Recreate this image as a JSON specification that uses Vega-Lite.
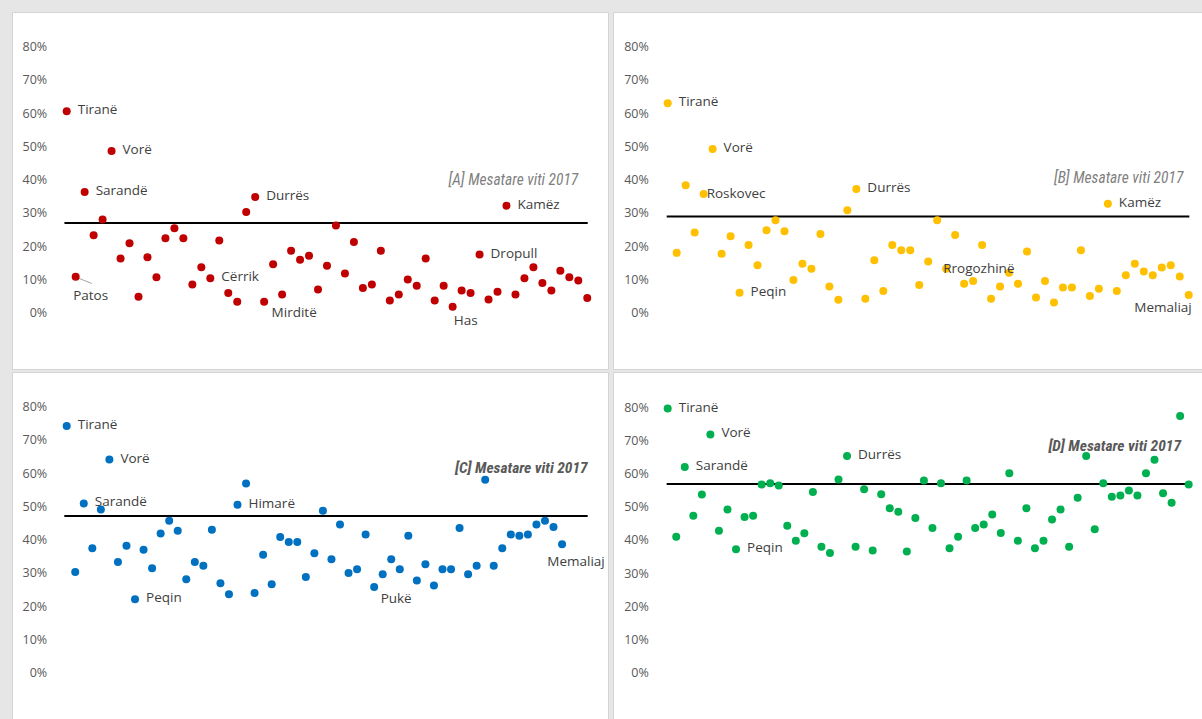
{
"$schema":"https://vega.github.io/schema/vega-lite/v6.json",
"background":"#e6e6e6",
"padding":{"left":11,"top":11,"right":0,"bottom":0},
"config":{"view":{"fill":"white","stroke":"#d4d4d4","strokeWidth":1},"concat":{"spacing":6},
"axisY":{"grid":false,"domain":false,"ticks":false,"tickSize":0,"labelPadding":0,"labelFont":"Open Sans","labelFontSize":12.5,"labelColor":"#595959","format":".0%"}},
"datasets":{"pts":[
{"p":"A","i":1,"v":0.606,"n":"Tiranë"},{"p":"A","i":2,"v":0.108,"n":"Patos"},{"p":"A","i":3,"v":0.363,"n":"Sarandë"},{"p":"A","i":4,"v":0.233},{"p":"A","i":5,"v":0.280},{"p":"A","i":6,"v":0.486,"n":"Vorë"},{"p":"A","i":7,"v":0.163},{"p":"A","i":8,"v":0.209},{"p":"A","i":9,"v":0.048},{"p":"A","i":10,"v":0.167},
{"p":"A","i":11,"v":0.107},{"p":"A","i":12,"v":0.224},{"p":"A","i":13,"v":0.254},{"p":"A","i":14,"v":0.224},{"p":"A","i":15,"v":0.085},{"p":"A","i":16,"v":0.137},{"p":"A","i":17,"v":0.104,"n":"Cërrik"},{"p":"A","i":18,"v":0.217},{"p":"A","i":19,"v":0.059},{"p":"A","i":20,"v":0.033},
{"p":"A","i":21,"v":0.303},{"p":"A","i":22,"v":0.348,"n":"Durrës"},{"p":"A","i":23,"v":0.033,"n":"Mirditë"},{"p":"A","i":24,"v":0.146},{"p":"A","i":25,"v":0.055},{"p":"A","i":26,"v":0.186},{"p":"A","i":27,"v":0.159},{"p":"A","i":28,"v":0.171},{"p":"A","i":29,"v":0.070},{"p":"A","i":30,"v":0.141},
{"p":"A","i":31,"v":0.262},{"p":"A","i":32,"v":0.118},{"p":"A","i":33,"v":0.213},{"p":"A","i":34,"v":0.074},{"p":"A","i":35,"v":0.085},{"p":"A","i":36,"v":0.186},{"p":"A","i":37,"v":0.037},{"p":"A","i":38,"v":0.055},{"p":"A","i":39,"v":0.100},{"p":"A","i":40,"v":0.081},
{"p":"A","i":41,"v":0.163},{"p":"A","i":42,"v":0.037},{"p":"A","i":43,"v":0.081},{"p":"A","i":44,"v":0.018,"n":"Has"},{"p":"A","i":45,"v":0.067},{"p":"A","i":46,"v":0.059},{"p":"A","i":47,"v":0.175,"n":"Dropull"},{"p":"A","i":48,"v":0.040},{"p":"A","i":49,"v":0.063},{"p":"A","i":50,"v":0.322,"n":"Kamëz"},
{"p":"A","i":51,"v":0.055},{"p":"A","i":52,"v":0.104},{"p":"A","i":53,"v":0.137},{"p":"A","i":54,"v":0.089},{"p":"A","i":55,"v":0.067},{"p":"A","i":56,"v":0.126},{"p":"A","i":57,"v":0.107},{"p":"A","i":58,"v":0.097},{"p":"A","i":59,"v":0.044},
{"p":"B","i":1,"v":0.630,"n":"Tiranë"},{"p":"B","i":2,"v":0.180},{"p":"B","i":3,"v":0.383},{"p":"B","i":4,"v":0.241},{"p":"B","i":5,"v":0.357,"n":"Roskovec"},{"p":"B","i":6,"v":0.492,"n":"Vorë"},{"p":"B","i":7,"v":0.177},{"p":"B","i":8,"v":0.230},{"p":"B","i":9,"v":0.060,"n":"Peqin"},{"p":"B","i":10,"v":0.204},
{"p":"B","i":11,"v":0.143},{"p":"B","i":12,"v":0.248},{"p":"B","i":13,"v":0.278},{"p":"B","i":14,"v":0.245},{"p":"B","i":15,"v":0.098},{"p":"B","i":16,"v":0.147},{"p":"B","i":17,"v":0.132},{"p":"B","i":18,"v":0.237},{"p":"B","i":19,"v":0.079},{"p":"B","i":20,"v":0.039},
{"p":"B","i":21,"v":0.308},{"p":"B","i":22,"v":0.372,"n":"Durrës"},{"p":"B","i":23,"v":0.042},{"p":"B","i":24,"v":0.158},{"p":"B","i":25,"v":0.065},{"p":"B","i":26,"v":0.204},{"p":"B","i":27,"v":0.188},{"p":"B","i":28,"v":0.188},{"p":"B","i":29,"v":0.083},{"p":"B","i":30,"v":0.154},
{"p":"B","i":31,"v":0.278},{"p":"B","i":32,"v":0.132,"n":"Rrogozhinë"},{"p":"B","i":33,"v":0.234},{"p":"B","i":34,"v":0.087},{"p":"B","i":35,"v":0.095},{"p":"B","i":36,"v":0.204},{"p":"B","i":37,"v":0.042},{"p":"B","i":38,"v":0.079},{"p":"B","i":39,"v":0.120},{"p":"B","i":40,"v":0.087},
{"p":"B","i":41,"v":0.184},{"p":"B","i":42,"v":0.046},{"p":"B","i":43,"v":0.095},{"p":"B","i":44,"v":0.031},{"p":"B","i":45,"v":0.076},{"p":"B","i":46,"v":0.076},{"p":"B","i":47,"v":0.188},{"p":"B","i":48,"v":0.050},{"p":"B","i":49,"v":0.072},{"p":"B","i":50,"v":0.328,"n":"Kamëz"},
{"p":"B","i":51,"v":0.065},{"p":"B","i":52,"v":0.113},{"p":"B","i":53,"v":0.147},{"p":"B","i":54,"v":0.124},{"p":"B","i":55,"v":0.113},{"p":"B","i":56,"v":0.136},{"p":"B","i":57,"v":0.143},{"p":"B","i":58,"v":0.109},{"p":"B","i":59,"v":0.053,"n":"Memaliaj"},
{"p":"C","i":1,"v":0.742,"n":"Tiranë"},{"p":"C","i":2,"v":0.303},{"p":"C","i":3,"v":0.509,"n":"Sarandë"},{"p":"C","i":4,"v":0.374},{"p":"C","i":5,"v":0.491},{"p":"C","i":6,"v":0.641,"n":"Vorë"},{"p":"C","i":7,"v":0.333},{"p":"C","i":8,"v":0.382},{"p":"C","i":9,"v":0.221,"n":"Peqin"},{"p":"C","i":10,"v":0.370},
{"p":"C","i":11,"v":0.314},{"p":"C","i":12,"v":0.419},{"p":"C","i":13,"v":0.457},{"p":"C","i":14,"v":0.427},{"p":"C","i":15,"v":0.281},{"p":"C","i":16,"v":0.333},{"p":"C","i":17,"v":0.322},{"p":"C","i":18,"v":0.430},{"p":"C","i":19,"v":0.269},{"p":"C","i":20,"v":0.236},
{"p":"C","i":21,"v":0.505,"n":"Himarë"},{"p":"C","i":22,"v":0.569},{"p":"C","i":23,"v":0.240},{"p":"C","i":24,"v":0.355},{"p":"C","i":25,"v":0.266},{"p":"C","i":26,"v":0.408},{"p":"C","i":27,"v":0.393},{"p":"C","i":28,"v":0.393},{"p":"C","i":29,"v":0.288},{"p":"C","i":30,"v":0.359},
{"p":"C","i":31,"v":0.487},{"p":"C","i":32,"v":0.341},{"p":"C","i":33,"v":0.446},{"p":"C","i":34,"v":0.300},{"p":"C","i":35,"v":0.311},{"p":"C","i":36,"v":0.416},{"p":"C","i":37,"v":0.258,"n":"Pukë"},{"p":"C","i":38,"v":0.296},{"p":"C","i":39,"v":0.341},{"p":"C","i":40,"v":0.311},
{"p":"C","i":41,"v":0.412},{"p":"C","i":42,"v":0.277},{"p":"C","i":43,"v":0.326},{"p":"C","i":44,"v":0.262},{"p":"C","i":45,"v":0.311},{"p":"C","i":46,"v":0.311},{"p":"C","i":47,"v":0.435},{"p":"C","i":48,"v":0.296},{"p":"C","i":49,"v":0.322},{"p":"C","i":50,"v":0.580},
{"p":"C","i":51,"v":0.322},{"p":"C","i":52,"v":0.374},{"p":"C","i":53,"v":0.416},{"p":"C","i":54,"v":0.412},{"p":"C","i":55,"v":0.416},{"p":"C","i":56,"v":0.446},{"p":"C","i":57,"v":0.457},{"p":"C","i":58,"v":0.438},{"p":"C","i":59,"v":0.386,"n":"Memaliaj"},
{"p":"D","i":1,"v":0.796,"n":"Tiranë"},{"p":"D","i":2,"v":0.410},{"p":"D","i":3,"v":0.620,"n":"Sarandë"},{"p":"D","i":4,"v":0.473},{"p":"D","i":5,"v":0.537},{"p":"D","i":6,"v":0.718,"n":"Vorë"},{"p":"D","i":7,"v":0.428},{"p":"D","i":8,"v":0.492},{"p":"D","i":9,"v":0.372,"n":"Peqin"},{"p":"D","i":10,"v":0.469},
{"p":"D","i":11,"v":0.473},{"p":"D","i":12,"v":0.567},{"p":"D","i":13,"v":0.571},{"p":"D","i":14,"v":0.564},{"p":"D","i":15,"v":0.443},{"p":"D","i":16,"v":0.398},{"p":"D","i":17,"v":0.420},{"p":"D","i":18,"v":0.545},{"p":"D","i":19,"v":0.380},{"p":"D","i":20,"v":0.361},
{"p":"D","i":21,"v":0.582},{"p":"D","i":22,"v":0.653,"n":"Durrës"},{"p":"D","i":23,"v":0.380},{"p":"D","i":24,"v":0.553},{"p":"D","i":25,"v":0.368},{"p":"D","i":26,"v":0.538},{"p":"D","i":27,"v":0.496},{"p":"D","i":28,"v":0.485},{"p":"D","i":29,"v":0.365},{"p":"D","i":30,"v":0.466},
{"p":"D","i":31,"v":0.579},{"p":"D","i":32,"v":0.436},{"p":"D","i":33,"v":0.571},{"p":"D","i":34,"v":0.375},{"p":"D","i":35,"v":0.410},{"p":"D","i":36,"v":0.579},{"p":"D","i":37,"v":0.436},{"p":"D","i":38,"v":0.447},{"p":"D","i":39,"v":0.477},{"p":"D","i":40,"v":0.421},
{"p":"D","i":41,"v":0.601},{"p":"D","i":42,"v":0.398},{"p":"D","i":43,"v":0.496},{"p":"D","i":44,"v":0.375},{"p":"D","i":45,"v":0.398},{"p":"D","i":46,"v":0.462},{"p":"D","i":47,"v":0.492},{"p":"D","i":48,"v":0.380},{"p":"D","i":49,"v":0.527},{"p":"D","i":50,"v":0.653},
{"p":"D","i":51,"v":0.432},{"p":"D","i":52,"v":0.571},{"p":"D","i":53,"v":0.530},{"p":"D","i":54,"v":0.534},{"p":"D","i":55,"v":0.549},{"p":"D","i":56,"v":0.534},{"p":"D","i":57,"v":0.601},{"p":"D","i":58,"v":0.642},{"p":"D","i":59,"v":0.541},{"p":"D","i":60,"v":0.512},
{"p":"D","i":61,"v":0.774},{"p":"D","i":62,"v":0.567}
]},
"vconcat":[
{"hconcat":[
{"width":596,"height":357,"layer":[
 {"data":{"values":[{"v":0.27}]},"mark":{"type":"rule","color":"black","strokeWidth":2},"encoding":{"x":{"datum":0.75,"type":"quantitative","axis":null},"x2":{"datum":59.05},"y":{"field":"v","type":"quantitative","axis":{"offset":-34.7,"title":null,"values":[0,0.1,0.2,0.3,0.4,0.5,0.6,0.7,0.8]}}}},
 {"data":{"values":[{"a":1}]},"mark":{"type":"rule","color":"#a6a6a6","strokeWidth":1},"encoding":{"x":{"datum":2.3,"type":"quantitative","axis":null},"x2":{"datum":3.8},"y":{"datum":0.104,"type":"quantitative","axis":{"offset":-34.7,"title":null,"values":[0,0.1,0.2,0.3,0.4,0.5,0.6,0.7,0.8]}},"y2":{"datum":0.088}}},
 {"data":{"name":"pts"},"transform":[{"filter":"datum.p==='A'"}],"mark":{"type":"circle","size":64,"opacity":1,"color":"#C00000"},"encoding":{"x":{"field":"i","type":"quantitative","scale":{"domain":[-5.094,61.31],"nice":false,"zero":false},"axis":null},"y":{"field":"v","type":"quantitative","scale":{"domain":[-0.1693,0.9044],"nice":false,"zero":false},"axis":{"offset":-34.7,"title":null,"values":[0,0.1,0.2,0.3,0.4,0.5,0.6,0.7,0.8]}}}},
 {"data":{"name":"pts"},"transform":[{"filter":{"field":"n","oneOf":["Tiranë","Vorë","Sarandë","Durrës","Kamëz","Dropull","Cërrik"]}},{"filter":"datum.p==='A'"}],"mark":{"type":"text","align":"left","baseline":"middle","dx":11,"dy":-1,"font":"Open Sans","fontSize":13.5,"color":"#404040"},"encoding":{"x":{"field":"i","type":"quantitative","axis":null},"y":{"field":"v","type":"quantitative","axis":{"offset":-34.7,"title":null,"values":[0,0.1,0.2,0.3,0.4,0.5,0.6,0.7,0.8]}},"text":{"field":"n"}}},
 {"data":{"name":"pts"},"transform":[{"filter":"datum.p==='A' && datum.n==='Patos'"}],"mark":{"type":"text","align":"center","baseline":"middle","dx":15,"dy":19,"font":"Open Sans","fontSize":13.5,"color":"#404040"},"encoding":{"x":{"field":"i","type":"quantitative","axis":null},"y":{"field":"v","type":"quantitative","axis":{"offset":-34.7,"title":null,"values":[0,0.1,0.2,0.3,0.4,0.5,0.6,0.7,0.8]}},"text":{"field":"n"}}},
 {"data":{"name":"pts"},"transform":[{"filter":"datum.p==='A' && datum.n==='Mirditë'"}],"mark":{"type":"text","align":"center","baseline":"middle","dx":30,"dy":11,"font":"Open Sans","fontSize":13.5,"color":"#404040"},"encoding":{"x":{"field":"i","type":"quantitative","axis":null},"y":{"field":"v","type":"quantitative","axis":{"offset":-34.7,"title":null,"values":[0,0.1,0.2,0.3,0.4,0.5,0.6,0.7,0.8]}},"text":{"field":"n"}}},
 {"data":{"name":"pts"},"transform":[{"filter":"datum.p==='A' && datum.n==='Has'"}],"mark":{"type":"text","align":"center","baseline":"middle","dx":13,"dy":14,"font":"Open Sans","fontSize":13.5,"color":"#404040"},"encoding":{"x":{"field":"i","type":"quantitative","axis":null},"y":{"field":"v","type":"quantitative","axis":{"offset":-34.7,"title":null,"values":[0,0.1,0.2,0.3,0.4,0.5,0.6,0.7,0.8]}},"text":{"field":"n"}}},
 {"data":{"values":[{"t":"[A] Mesatare viti 2017"}]},"mark":{"type":"text","align":"right","baseline":"middle","font":"Liberation Sans Narrow, Roboto Condensed, Roboto","fontStyle":"italic","fontSize":15.5,"color":"#7f7f7f"},"encoding":{"x":{"datum":58.0,"type":"quantitative","axis":null},"y":{"datum":0.40,"type":"quantitative","axis":{"offset":-34.7,"title":null,"values":[0,0.1,0.2,0.3,0.4,0.5,0.6,0.7,0.8]}},"text":{"field":"t"}}}
]},
{"width":589,"height":357,"layer":[
 {"data":{"values":[{"v":0.289}]},"mark":{"type":"rule","color":"black","strokeWidth":2},"encoding":{"x":{"datum":0.89,"type":"quantitative","axis":null},"x2":{"datum":59.07},"y":{"field":"v","type":"quantitative","axis":{"offset":-35.3,"title":null,"values":[0,0.1,0.2,0.3,0.4,0.5,0.6,0.7,0.8]}}}},
 {"data":{"name":"pts"},"transform":[{"filter":"datum.p==='B'"}],"mark":{"type":"circle","size":64,"opacity":1,"color":"#FFC000"},"encoding":{"x":{"field":"i","type":"quantitative","scale":{"domain":[-5.09,60.48],"nice":false,"zero":false},"axis":null},"y":{"field":"v","type":"quantitative","scale":{"domain":[-0.1693,0.9044],"nice":false,"zero":false},"axis":{"offset":-35.3,"title":null,"values":[0,0.1,0.2,0.3,0.4,0.5,0.6,0.7,0.8]}}}},
 {"data":{"name":"pts"},"transform":[{"filter":{"field":"n","oneOf":["Tiranë","Vorë","Durrës","Peqin","Kamëz"]}},{"filter":"datum.p==='B'"}],"mark":{"type":"text","align":"left","baseline":"middle","dx":11,"dy":-1,"font":"Open Sans","fontSize":13.5,"color":"#404040"},"encoding":{"x":{"field":"i","type":"quantitative","axis":null},"y":{"field":"v","type":"quantitative","axis":{"offset":-35.3,"title":null,"values":[0,0.1,0.2,0.3,0.4,0.5,0.6,0.7,0.8]}},"text":{"field":"n"}}},
 {"data":{"name":"pts"},"transform":[{"filter":"datum.p==='B' && datum.n==='Roskovec'"}],"mark":{"type":"text","align":"left","baseline":"middle","dx":3,"dy":0,"font":"Open Sans","fontSize":13.5,"color":"#404040"},"encoding":{"x":{"field":"i","type":"quantitative","axis":null},"y":{"field":"v","type":"quantitative","axis":{"offset":-35.3,"title":null,"values":[0,0.1,0.2,0.3,0.4,0.5,0.6,0.7,0.8]}},"text":{"field":"n"}}},
 {"data":{"name":"pts"},"transform":[{"filter":"datum.p==='B' && datum.n==='Rrogozhinë'"}],"mark":{"type":"text","align":"left","baseline":"middle","dx":-3,"dy":0,"font":"Open Sans","fontSize":13.5,"color":"#404040"},"encoding":{"x":{"field":"i","type":"quantitative","axis":null},"y":{"field":"v","type":"quantitative","axis":{"offset":-35.3,"title":null,"values":[0,0.1,0.2,0.3,0.4,0.5,0.6,0.7,0.8]}},"text":{"field":"n"}}},
 {"data":{"name":"pts"},"transform":[{"filter":"datum.p==='B' && datum.n==='Memaliaj'"}],"mark":{"type":"text","align":"right","baseline":"middle","dx":3,"dy":13,"font":"Open Sans","fontSize":13.5,"color":"#404040"},"encoding":{"x":{"field":"i","type":"quantitative","axis":null},"y":{"field":"v","type":"quantitative","axis":{"offset":-35.3,"title":null,"values":[0,0.1,0.2,0.3,0.4,0.5,0.6,0.7,0.8]}},"text":{"field":"n"}}},
 {"data":{"values":[{"t":"[B] Mesatare viti 2017"}]},"mark":{"type":"text","align":"right","baseline":"middle","font":"Liberation Sans Narrow, Roboto Condensed, Roboto","fontStyle":"italic","fontSize":15.5,"color":"#7f7f7f"},"encoding":{"x":{"datum":58.4,"type":"quantitative","axis":null},"y":{"datum":0.404,"type":"quantitative","axis":{"offset":-35.3,"title":null,"values":[0,0.1,0.2,0.3,0.4,0.5,0.6,0.7,0.8]}},"text":{"field":"t"}}}
]}
],"spacing":3},
{"hconcat":[
{"width":596,"height":347,"layer":[
 {"data":{"values":[{"v":0.471}]},"mark":{"type":"rule","color":"black","strokeWidth":2},"encoding":{"x":{"datum":0.72,"type":"quantitative","axis":null},"x2":{"datum":62.0},"y":{"field":"v","type":"quantitative","axis":{"offset":-34.7,"title":null,"values":[0,0.1,0.2,0.3,0.4,0.5,0.6,0.7,0.8]}}}},
 {"data":{"name":"pts"},"transform":[{"filter":"datum.p==='C'"}],"mark":{"type":"circle","size":64,"opacity":1,"color":"#0070C0"},"encoding":{"x":{"field":"i","type":"quantitative","scale":{"domain":[-5.404,64.38],"nice":false,"zero":false},"axis":null},"y":{"field":"v","type":"quantitative","scale":{"domain":[-0.1393,0.9044],"nice":false,"zero":false},"axis":{"offset":-34.7,"title":null,"values":[0,0.1,0.2,0.3,0.4,0.5,0.6,0.7,0.8]}}}},
 {"data":{"name":"pts"},"transform":[{"filter":{"field":"n","oneOf":["Tiranë","Vorë","Sarandë","Peqin","Himarë"]}},{"filter":"datum.p==='C'"}],"mark":{"type":"text","align":"left","baseline":"middle","dx":11,"dy":-1,"font":"Open Sans","fontSize":13.5,"color":"#404040"},"encoding":{"x":{"field":"i","type":"quantitative","axis":null},"y":{"field":"v","type":"quantitative","axis":{"offset":-34.7,"title":null,"values":[0,0.1,0.2,0.3,0.4,0.5,0.6,0.7,0.8]}},"text":{"field":"n"}}},
 {"data":{"name":"pts"},"transform":[{"filter":"datum.p==='C' && datum.n==='Pukë'"}],"mark":{"type":"text","align":"center","baseline":"middle","dx":22,"dy":12,"font":"Open Sans","fontSize":13.5,"color":"#404040"},"encoding":{"x":{"field":"i","type":"quantitative","axis":null},"y":{"field":"v","type":"quantitative","axis":{"offset":-34.7,"title":null,"values":[0,0.1,0.2,0.3,0.4,0.5,0.6,0.7,0.8]}},"text":{"field":"n"}}},
 {"data":{"name":"pts"},"transform":[{"filter":"datum.p==='C' && datum.n==='Memaliaj'"}],"mark":{"type":"text","align":"center","baseline":"middle","dx":14,"dy":18,"font":"Open Sans","fontSize":13.5,"color":"#404040"},"encoding":{"x":{"field":"i","type":"quantitative","axis":null},"y":{"field":"v","type":"quantitative","axis":{"offset":-34.7,"title":null,"values":[0,0.1,0.2,0.3,0.4,0.5,0.6,0.7,0.8]}},"text":{"field":"n"}}},
 {"data":{"values":[{"t":"[C] Mesatare viti 2017"}]},"mark":{"type":"text","align":"right","baseline":"middle","font":"Liberation Sans Narrow, Roboto Condensed, Roboto","fontStyle":"italic","fontWeight":"bold","fontSize":15.5,"color":"#595959"},"encoding":{"x":{"datum":62.0,"type":"quantitative","axis":null},"y":{"datum":0.615,"type":"quantitative","axis":{"offset":-34.7,"title":null,"values":[0,0.1,0.2,0.3,0.4,0.5,0.6,0.7,0.8]}},"text":{"field":"t"}}}
]},
{"width":589,"height":347,"layer":[
 {"data":{"values":[{"v":0.569}]},"mark":{"type":"rule","color":"black","strokeWidth":2},"encoding":{"x":{"datum":0.88,"type":"quantitative","axis":null},"x2":{"datum":62.2},"y":{"field":"v","type":"quantitative","axis":{"offset":-35.3,"title":null,"values":[0,0.1,0.2,0.3,0.4,0.5,0.6,0.7,0.8]}}}},
 {"data":{"name":"pts"},"transform":[{"filter":"datum.p==='D'"}],"mark":{"type":"circle","size":64,"opacity":1,"color":"#00B050"},"encoding":{"x":{"field":"i","type":"quantitative","scale":{"domain":[-5.404,63.56],"nice":false,"zero":false},"axis":null},"y":{"field":"v","type":"quantitative","scale":{"domain":[-0.1395,0.9063],"nice":false,"zero":false},"axis":{"offset":-35.3,"title":null,"values":[0,0.1,0.2,0.3,0.4,0.5,0.6,0.7,0.8]}}}},
 {"data":{"name":"pts"},"transform":[{"filter":{"field":"n","oneOf":["Tiranë","Vorë","Sarandë","Peqin","Durrës"]}},{"filter":"datum.p==='D'"}],"mark":{"type":"text","align":"left","baseline":"middle","dx":11,"dy":-1,"font":"Open Sans","fontSize":13.5,"color":"#404040"},"encoding":{"x":{"field":"i","type":"quantitative","axis":null},"y":{"field":"v","type":"quantitative","axis":{"offset":-35.3,"title":null,"values":[0,0.1,0.2,0.3,0.4,0.5,0.6,0.7,0.8]}},"text":{"field":"n"}}},
 {"data":{"values":[{"t":"[D] Mesatare viti 2017"}]},"mark":{"type":"text","align":"right","baseline":"middle","font":"Liberation Sans Narrow, Roboto Condensed, Roboto","fontStyle":"italic","fontWeight":"bold","fontSize":15.5,"color":"#595959"},"encoding":{"x":{"datum":61.1,"type":"quantitative","axis":null},"y":{"datum":0.682,"type":"quantitative","axis":{"offset":-35.3,"title":null,"values":[0,0.1,0.2,0.3,0.4,0.5,0.6,0.7,0.8]}},"text":{"field":"t"}}}
]}
],"spacing":3}
],"spacing":1}
